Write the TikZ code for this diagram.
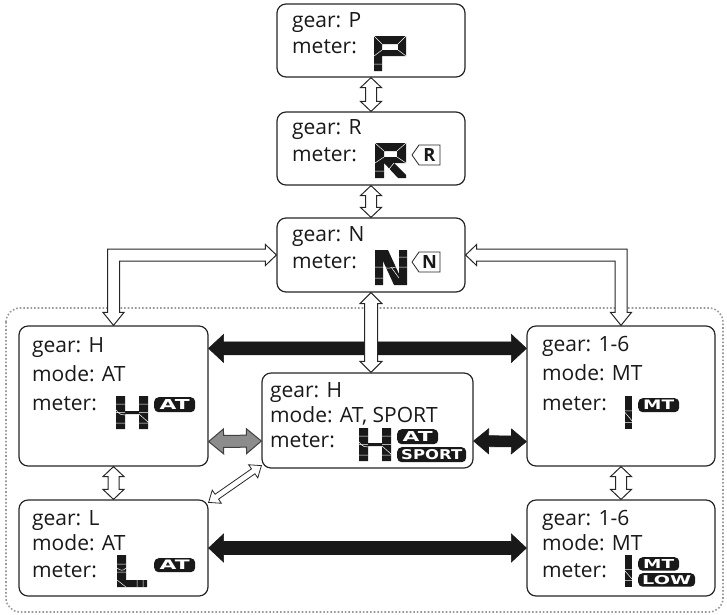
\documentclass[tikz,border=0pt]{standalone}
\usepackage{fontspec}
\usepackage{graphicx}
\setmainfont{Open Sans}
\newfontfamily\badgefont{DejaVu Sans}
\usetikzlibrary{calc}
\tikzset{
  box/.style={draw=black!85, line width=1.2pt, rounded corners=9pt, fill=white, inner sep=0pt},
  lbl/.style={anchor=base west, inner sep=0pt, font=\fontsize{21}{21}\selectfont, text=black!90},
  badge/.style={fill=black!90, text=white, rounded corners=4.5pt, inner sep=0pt, anchor=north west},
  tagshape/.style={draw=black!85, fill=white, line width=0.8pt},
  taglbl/.style={inner sep=0pt, text=black!90},
  seg/.style={fill=black!90},
  segw/.style={draw=white, line width=0.5pt},
  dotframe/.style={draw=black!40, line width=1.6pt, dash pattern=on 1.6pt off 2pt, rounded corners=14pt},
  hollowarrow/.style={draw=black!85, fill=white, line width=1pt, line join=miter},
  blackarrow/.style={draw=black!90, fill=black!90, line width=0.6pt, line join=miter},
  grayarrow/.style={draw=black!75, fill=black!45, line width=1pt, line join=miter},
  barrow/.style n args={3}{to path={
    let \p1=(\tikztostart), \p2=(\tikztotarget),
        \n1={atan2(\y2-\y1,\x2-\x1)}, \n2={\n1+90} in
    (\p1) -- ($(\p1)+(\n1:#1)+(\n2:#2)$) -- ($(\p1)+(\n1:#1)+(\n2:#3)$)
    -- ($(\p2)+(\n1:-#1)+(\n2:#3)$) -- ($(\p2)+(\n1:-#1)+(\n2:#2)$)
    -- (\p2) -- ($(\p2)+(\n1:-#1)+(\n2:-#2)$) -- ($(\p2)+(\n1:-#1)+(\n2:-#3)$)
    -- ($(\p1)+(\n1:#1)+(\n2:-#3)$) -- ($(\p1)+(\n1:#1)+(\n2:-#2)$) -- cycle}},
}
% segmented glyphs (top-left corner given)
\newcommand\glyphP[2]{\begin{scope}[shift={(#1,#2)}]
  \fill[seg] (0,0) rectangle (8,35) (0,0) rectangle (32,8) (24,0) rectangle (32,20) (0,14) rectangle (32,20);
  \draw[segw] (0,0)--(8,8) (24,8)--(32,0) (24,14)--(32,20) (0,20)--(8,14) (0,28)--(8,28);
\end{scope}}
\newcommand\glyphR[2]{\begin{scope}[shift={(#1,#2)}]
  \fill[seg] (0,0) rectangle (9,35) (0,0) rectangle (31,8) (22,0) rectangle (31,20) (0,14) rectangle (31,20);
  \fill[seg] (9,20) -- (19,20) -- (31,32) -- (31,35) -- (23,35) -- cycle;
  \draw[segw] (0,0)--(9,8) (22,8)--(31,0) (22,14)--(31,20) (0,20)--(9,14) (0,28)--(9,28) (19,20)--(14,26);
\end{scope}}
\newcommand\glyphN[2]{\begin{scope}[shift={(#1,#2)}]
  \fill[seg] (0,0) rectangle (8,35) (24,0) rectangle (32,35);
  \fill[seg] (8,0) -- (13,0) -- (24,24) -- (24,35) -- (19,35) -- (8,11) -- cycle;
  \draw[segw] (0,17)--(8,17) (24,17)--(32,17) (0,28)--(8,28) (24,7)--(32,7) (8,17) .. controls (16,20) and (20,16) .. (24,17) (16,17)--(24,28);
\end{scope}}
\newcommand\glyphH[2]{\begin{scope}[shift={(#1,#2)}]
  \fill[seg] (0,0) rectangle (9,33) (23,0) rectangle (32,33) (9,15) rectangle (23,18);
  \draw[segw] (0,8)--(9,8) (23,8)--(32,8) (0,16.5)--(9,16.5) (23,16.5)--(32,16.5) (0,27)--(9,27) (23,27)--(32,27) (0,14) .. controls (4,19) and (6,19) .. (9,19) (23,18)--(32,26);
\end{scope}}
\newcommand\glyphL[2]{\begin{scope}[shift={(#1,#2)}]
  \fill[seg] (0,0) rectangle (9,32) (0,25) rectangle (30,32);
  \draw[segw] (0,9)--(9,9) (0,13) .. controls (4,16) and (6,16) .. (9,13) (0,17)--(9,17) (0,25)--(9,32) (20,25)--(20,32) (26,25)--(26,32);
\end{scope}}
\newcommand\glyphOne[3]{\begin{scope}[shift={(#1,#2)}]
  \fill[seg] (0,0) rectangle (7,#3);
  \draw[segw] (0,{#3*0.45})--(7,{#3*0.45}) (0,{#3*0.5})--(7,{#3*0.75}) (0,{#3*0.8})--(7,{#3*0.8});
\end{scope}}
\newcommand\btxt[3]{\resizebox{#1pt}{#2pt}{\badgefont\bfseries #3}}
\newcommand\ttxt[1]{\resizebox{!}{13pt}{\bfseries #1}}
\begin{document}
\begin{tikzpicture}[x=1pt, y=-1pt]
\useasboundingbox (0,0) rectangle (727,614);
% dotted frame
\draw[dotframe] (6,308) rectangle (723,612);
% boxes
\node[box, minimum width=188pt, minimum height=73pt] (P) at (371,40.5) {};
\node[box, minimum width=188pt, minimum height=73pt] (R) at (371,148.5) {};
\node[box, minimum width=188pt, minimum height=74pt] (N) at (371,255) {};
\node[box, minimum width=189pt, minimum height=140pt] (H) at (113.5,396) {};
\node[box, minimum width=188pt, minimum height=140pt] (MT) at (621,396) {};
\node[box, minimum width=211pt, minimum height=95pt] (Sp) at (367.5,420.5) {};
\node[box, minimum width=189pt, minimum height=96pt] (L) at (113.5,548) {};
\node[box, minimum width=188pt, minimum height=96pt] (LOW) at (621,548) {};
% black and gray arrows
\draw[blackarrow, barrow={15pt}{14pt}{6.5pt}] ([yshift=-23pt]H.north east) to ([yshift=-23pt]MT.north west);
\draw[blackarrow, barrow={15pt}{12.5pt}{5.5pt}] ([yshift=-20.5pt]Sp.east) to ([yshift=25pt]MT.south west);
\draw[grayarrow, barrow={15pt}{12.5pt}{6pt}] ([yshift=25pt]H.south east) to ([yshift=-20.5pt]Sp.west);
\draw[blackarrow, barrow={15pt}{14pt}{6.5pt}] (L.east) to (LOW.west);
% hollow arrows
\draw[hollowarrow, barrow={10pt}{10.5pt}{5.5pt}] (P.south) to (R.north);
\draw[hollowarrow, barrow={10pt}{10.5pt}{5.5pt}] (R.south) to (N.north);
\draw[hollowarrow, barrow={11pt}{11pt}{6.5pt}] (N.south) to (N.south |- Sp.north);
\draw[hollowarrow, barrow={10pt}{10.5pt}{5.5pt}] (H.south) to (L.north);
\draw[hollowarrow, barrow={10pt}{10.5pt}{5.5pt}] (MT.south) to (LOW.north);
\draw[hollowarrow, line width=0.8pt, barrow={10pt}{8pt}{3pt}] ([yshift=-3pt]L.north east) to ([yshift=3pt]Sp.south west);
\draw[hollowarrow] let \p1=(N.west), \p2=(H.north) in
  (\x1,\y1) -- (\x1-11pt,\y1+10.5pt) -- (\x1-11pt,\y1+6pt) -- (\x2-6pt,\y1+6pt) -- (\x2-6pt,\y2+13pt)
  -- (\x2-10.5pt,\y2+13pt) -- (\x2,\y2) -- (\x2+10.5pt,\y2+13pt) -- (\x2+6pt,\y2+13pt)
  -- (\x2+6pt,\y1-6pt) -- (\x1-11pt,\y1-6pt) -- (\x1-11pt,\y1-10.5pt) -- cycle;
\draw[hollowarrow] let \p1=(N.east), \p2=(MT.north) in
  (\x1,\y1) -- (\x1+11pt,\y1+10.5pt) -- (\x1+11pt,\y1+6pt) -- (\x2+6pt,\y1+6pt) -- (\x2+6pt,\y2+13pt)
  -- (\x2+10.5pt,\y2+13pt) -- (\x2,\y2) -- (\x2-10.5pt,\y2+13pt) -- (\x2-6pt,\y2+13pt)
  -- (\x2-6pt,\y1-6pt) -- (\x1+11pt,\y1-6pt) -- (\x1+11pt,\y1-10.5pt) -- cycle;
% texts
\node[lbl] (P1) at (292,27) {gear: P};
\node[lbl] (P2) at (292,53) {meter:};
\node[lbl] (R1) at (292,134) {gear: R};
\node[lbl] (R2) at (292,161) {meter:};
\node[lbl] (N1) at (292,241) {gear: N};
\node[lbl] (N2) at (292,268) {meter:};
\node[lbl] (H1) at (32,352) {gear: H};
\node[lbl] (H2) at (32,381) {mode: AT};
\node[lbl] (H3) at (32,410) {meter:};
\node[lbl] (M1) at (542,351) {gear: 1-6};
\node[lbl] (M2) at (542,380) {mode: MT};
\node[lbl] (M3) at (542,410) {meter:};
\node[lbl] (S1) at (270,397) {gear: H};
\node[lbl] (S2) at (270,422) {mode: AT, SPORT};
\node[lbl] (S3) at (270,447) {meter:};
\node[lbl] (L1) at (32,525) {gear: L};
\node[lbl] (L2) at (32,550) {mode: AT};
\node[lbl] (L3) at (32,577) {meter:};
\node[lbl] (W1) at (542,525) {gear: 1-6};
\node[lbl] (W2) at (542,550) {mode: MT};
\node[lbl] (W3) at (542,577) {meter:};
% meter glyphs
\glyphP{374}{36}
\glyphR{375}{143}
\glyphN{375}{250}
\glyphH{116}{396}
\glyphH{359}{428}
\glyphOne{625}{396}{33}
\glyphOne{625}{555}{32}
\glyphL{117}{555}
% tags
\draw[tagshape] (412,155) -- (419,145) -- (440,145) -- (440,165) -- (419,165) -- cycle;
\node[taglbl] (tagR) at (429.5,155) {\ttxt{R}};
\draw[tagshape] (412,262) -- (419,252) -- (440,252) -- (440,272) -- (419,272) -- cycle;
\node[taglbl] (tagN) at (429.5,262) {\ttxt{N}};
% badges
\node[badge, minimum width=41pt, minimum height=15pt] (bH) at (154,397) {\btxt{30}{10}{AT}};
\node[badge, minimum width=41pt, minimum height=15pt] (bS1) at (397,429) {\btxt{30}{10}{AT}};
\node[badge, minimum width=69pt, minimum height=15pt] (bS2) at (397,447) {\btxt{61}{10}{SPORT}};
\node[badge, minimum width=41pt, minimum height=14pt] (bM) at (638,398) {\btxt{31}{9.5}{MT}};
\node[badge, minimum width=41pt, minimum height=13.5pt] (bW1) at (638,557) {\btxt{31}{9}{MT}};
\node[badge, minimum width=57pt, minimum height=13.5pt] (bW2) at (638,573) {\btxt{49}{9}{LOW}};
\node[badge, minimum width=41pt, minimum height=14pt] (bL) at (154,558) {\btxt{30}{9.5}{AT}};
\end{tikzpicture}
\end{document}
